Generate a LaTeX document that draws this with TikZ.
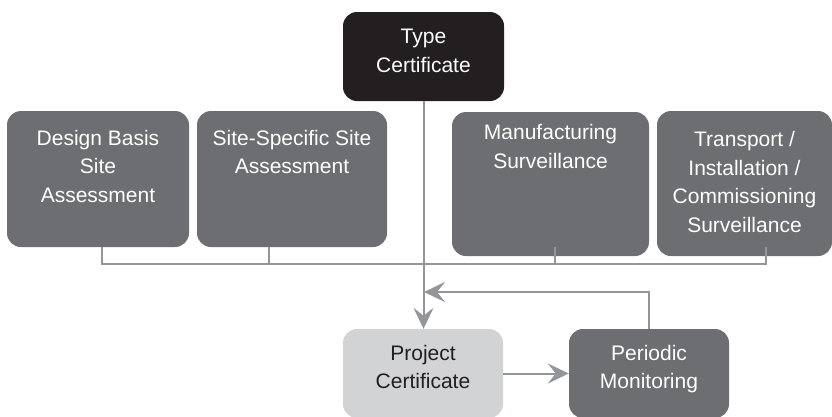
\documentclass[tikz,border=0pt]{standalone}
\usepackage{fontspec}
\setmainfont{Liberation Sans}
\usetikzlibrary{positioning,arrows.meta}

\definecolor{typeblack}{HTML}{231F20}
\definecolor{boxgray}{HTML}{6D6E71}
\definecolor{projgray}{HTML}{D1D3D4}
\definecolor{linegray}{HTML}{939598}

\tikzset{
  box/.style={rounded corners=14pt, inner sep=0pt, fill=boxgray},
  txt/.style={align=center, text=white, inner sep=0pt, font=\fontsize{21}{28.5}\selectfont},
  link/.style={draw=linegray, line width=2pt},
  arr/.style={link, -{Stealth[length=21pt,width=20pt,inset=8pt]}}
}

\begin{document}
\begin{tikzpicture}[x=1pt,y=-1pt]
        \useasboundingbox (0,0) rectangle (832,416);

        % boxes
        \node[box, fill=typeblack, minimum width=161pt, minimum height=89pt](type)at(423.5,56.5){};
        \node[box, minimum width=182pt, minimum height=136pt](dbsa)at(98,179){};
        \node[box, minimum width=190pt, minimum height=136pt](sssa)at(292,179){};
        \node[box, minimum width=197pt, minimum height=144pt](manu)at(550.5,184){};
        \node[box, minimum width=175pt, minimum height=145pt](tics)at(744.5,183.5){};
        \node[box, fill=projgray, minimum width=160pt, minimum height=89pt](proj)at(423,373.5){};
        \node[box, minimum width=160pt, minimum height=89pt](peri)at(649,373.5){};

        % texts
        \node[txt, below=17.5pt of type.north](type-txt){Type\\Certificate};
        \node[txt, below=19pt of dbsa.north](dbsa-txt){Design Basis\\Site\\Assessment};
        \node[txt, below=19pt of sssa.north](sssa-txt){Site-Specific Site\\Assessment};
        \node[txt, below=12.5pt of manu.north](manu-txt){Manufacturing\\Surveillance};
        \node[txt, below=20.5pt of tics.north](tics-txt){Transport /\\Installation /\\Commissioning\\Surveillance};
        \node[txt, text=typeblack, below=16pt of proj.north](proj-txt){Project\\Certificate};
        \node[txt, below=16pt of peri.north](peri-txt){Periodic\\Monitoring};

        % bus under the assessment boxes
        \coordinate(b1)at(102,264);
        \coordinate(b2)at(269,264);
        \coordinate(b3)at(555,264);
        \coordinate(b4)at(766,264);
        \coordinate(fb)at(424,292);

        \draw[link](dbsa.south -| b1)--(b1)--(b4)--([yshift=9pt]tics.south -| b4);
        \draw[link](sssa.south -| b2)--(b2);
        \draw[link]([yshift=9pt]manu.south -| b3)--(b3);

        % arrows
        \draw[arr](type.south)--(type.south |- proj.north);
        \draw[arr](peri.north)|-(fb);
        \draw[arr](proj)--(peri);
    \end{tikzpicture}
\end{document}
